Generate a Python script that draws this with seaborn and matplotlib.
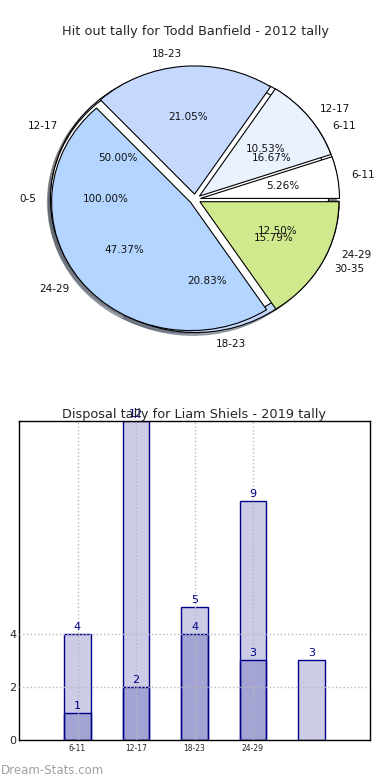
import matplotlib
matplotlib.use("Agg")
import matplotlib.pyplot as plt
import seaborn as sns
import pandas as pd
from matplotlib.colors import to_rgba

# ---------------- data ----------------
pie_title = "Hit out tally for Todd Banfield - 2012 tally"
pieA_labels = ["0-5"]
pieA_values = [1]
pieB_labels = ["6-11", "12-17", "18-23", "24-29", "30-35"]
pieB_values = [1, 2, 4, 9, 3]
pieC_labels = ["6-11", "12-17", "18-23", "24-29"]
pieC_values = [4, 12, 5, 3]
pie_colors = ["#ffffff", "#eaf1ff", "#c5d9ff", "#b4d5ff", "#d0e98c"]

bar_title = "Disposal tally for Liam Shiels - 2019 tally"
bar_categories = ["6-11", "12-17", "18-23", "24-29", "30-35"]
bar_tick_labels = ["6-11", "12-17", "18-23", "24-29"]
bar_totals = [4, 12, 5, 9, 3]
bar_subset = [1, 2, 4, 3]
bar_yticks = [0, 2, 4]

navy = "#000088"

sns.set_style("white")
plt.rcParams["font.family"] = ["DejaVu Sans"]

fig = plt.figure(figsize=(3.9, 7.8), dpi=100)

# ---------------- pie ----------------
ax1 = fig.add_axes([21.25 / 390, 1 - 359.5 / 780, 347.5 / 390, 320.5 / 780])
for labels, values in [(pieC_labels, pieC_values),
                       (pieA_labels, pieA_values),
                       (pieB_labels, pieB_values)]:
    ax1.pie(values, labels=labels, colors=pie_colors[:len(values)],
            explode=[0.04] * len(values), autopct="%1.2f%%",
            shadow={"ox": -0.016, "oy": -0.016, "shade": 0.6},
            startangle=0,
            wedgeprops=dict(edgecolor="black", linewidth=0.8),
            textprops=dict(fontsize=7.5, color="#111111"))
ax1.set_aspect("auto")
ax1.set_xlim(-1.25, 1.25)
ax1.set_ylim(-1.25, 1.25)
ax1.set_title(pie_title, fontsize=9.3, pad=3)

# ---------------- bars ----------------
ax2 = fig.add_axes([19 / 390, 40 / 780, 351 / 390, 319 / 780])
df_tot = pd.DataFrame({"cat": bar_categories, "val": bar_totals})
df_sub = pd.DataFrame({"cat": bar_categories[:len(bar_subset)], "val": bar_subset})
sns.barplot(data=df_tot, x="cat", y="val", order=bar_categories, width=0.45,
            errorbar=None, saturation=1, color=navy, ax=ax2)
sns.barplot(data=df_sub, x="cat", y="val", order=bar_categories, width=0.45,
            errorbar=None, saturation=1, color=navy, ax=ax2)
for p in ax2.patches:
    p.set_facecolor(to_rgba(navy, 0.2))
    p.set_edgecolor(navy)
    p.set_linewidth(1.0)

for i, v in enumerate(bar_totals):
    ax2.annotate(str(v), (i, v), xytext=(0, 1.5), textcoords="offset points",
                 ha="center", va="bottom", color=navy, fontsize=8,
                 annotation_clip=False)
for i, v in enumerate(bar_subset):
    ax2.annotate(str(v), (i, v), xytext=(0, 1.5), textcoords="offset points",
                 ha="center", va="bottom", color=navy, fontsize=8,
                 annotation_clip=False)

ax2.set_xlim(-1, 5)
ax2.set_ylim(0, 12)
ax2.set_xticks(range(len(bar_tick_labels)))
ax2.set_xticklabels(bar_tick_labels, fontsize=5.5)
ax2.set_yticks(bar_yticks)
ax2.set_yticklabels([str(t) for t in bar_yticks], fontsize=8)
ax2.tick_params(axis="both", length=0)
ax2.tick_params(axis="x", pad=3)
ax2.tick_params(axis="y", pad=2)
ax2.set_xlabel("")
ax2.set_ylabel("")
ax2.grid(True, linestyle=":", color="#b8b8b8", linewidth=1)
ax2.set_axisbelow(False)
for s in ax2.spines.values():
    s.set_visible(True)
    s.set_color("black")
    s.set_linewidth(1)
ax2.set_title(bar_title, fontsize=9.3, pad=2)

fig.text(0.002, 1 - 771 / 780, "Dream-Stats.com", color="#a0a0a0",
         fontsize=8.5, ha="left", va="center")

fig.savefig("out.png", dpi=100)
